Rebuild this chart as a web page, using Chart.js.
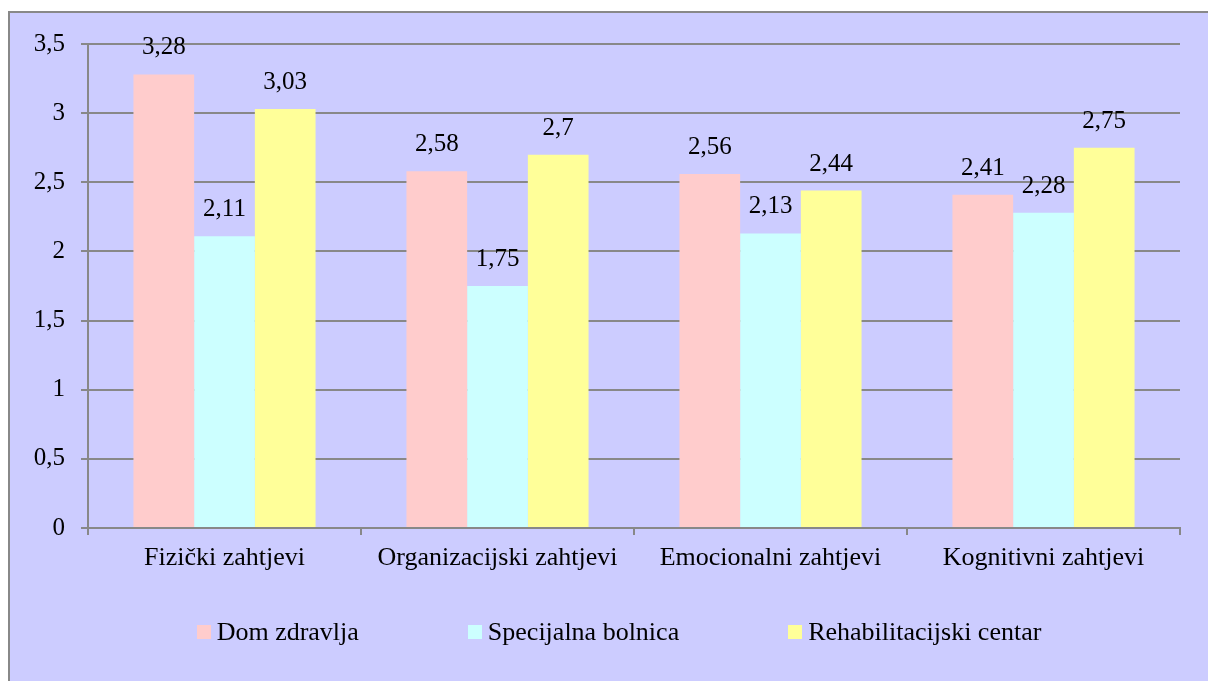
<!DOCTYPE html>
<html>
<head>
<meta charset="utf-8">
<script src="https://cdn.jsdelivr.net/npm/chart.js@4"></script>
<style>
	body { margin: 0; background: #fff; overflow: hidden; }
	#box {
		position: absolute; left: 8px; top: 11px;
		width: 1218px; height: 680px;
		background: #ccccff;
		border-left: 2px solid #888; border-top: 2px solid #888;
	}
	#chart { position: absolute; left: 0; top: 0; }
	#legend {
		position: absolute; left: 0; top: 603px; width: 1218px;
		display: flex; justify-content: center; gap: 109px;
		font: 26px "Liberation Serif", "Times New Roman", serif;
		line-height: 32px; color: #000;
	}
	#legend .item { display: flex; align-items: center; }
	#legend .sw { width: 14px; height: 14px; margin-right: 6px; }
</style>
</head>
<body>
<div id="box">
	<canvas id="chart" width="1218" height="668"></canvas>
	<div id="legend"></div>
</div>
<script>
// データ
const categories = ['Fizički zahtjevi', 'Organizacijski zahtjevi', 'Emocionalni zahtjevi', 'Kognitivni zahtjevi'];
const seriesNames = ['Dom zdravlja', 'Specijalna bolnica', 'Rehabilitacijski centar'];
const domZdravlja = [3.28, 2.58, 2.56, 2.41];
const specijalnaBolnica = [2.11, 1.75, 2.13, 2.28];
const rehabCentar = [3.03, 2.70, 2.44, 2.75];
const yTicks = [0, 0.5, 1, 1.5, 2, 2.5, 3, 3.5];

const colors = ['#ffcccc', '#ccffff', '#ffff99'];
const serif = '"Liberation Serif", "Times New Roman", serif';

// 小数点をカンマで表示
function fmt(v) {
	return String(v).replace('.', ',');
}

// 棒の上に値ラベルを描く
const valueLabels = {
	id: 'valueLabels',
	afterDatasetsDraw(chart) {
		const ctx = chart.ctx;
		ctx.save();
		ctx.font = '25px ' + serif;
		ctx.fillStyle = '#000';
		ctx.textAlign = 'center';
		ctx.textBaseline = 'alphabetic';
		chart.data.datasets.forEach(function(ds, i) {
			chart.getDatasetMeta(i).data.forEach(function(bar, j) {
				ctx.fillText(fmt(ds.data[j]), bar.x, bar.y - 20);
			});
		});
		ctx.restore();
	}
};

const chart = new Chart(document.getElementById('chart'), {
	type: 'bar',
	data: {
		labels: categories,
		datasets: [domZdravlja, specijalnaBolnica, rehabCentar].map(function(d, i) {
			return {
				label: seriesNames[i],
				data: d,
				backgroundColor: colors[i],
				borderWidth: 0,
				categoryPercentage: 0.667,
				barPercentage: 1.0
			};
		})
	},
	options: {
		responsive: false,
		animation: false,
		devicePixelRatio: 1,
		layout: { padding: { left: 0, right: 48, top: 28, bottom: 93 } },
		plugins: {
			legend: { display: false },
			tooltip: { enabled: false }
		},
		scales: {
			x: {
				afterFit: function(s) { s.height = 60; },
				grid: {
					drawOnChartArea: false, drawTicks: true, tickLength: 7,
					color: '#888', lineWidth: 2
				},
				border: { color: '#888', width: 2 },
				ticks: { color: '#000', padding: 8, font: { family: serif, size: 26 } }
			},
			y: {
				min: 0, max: 3.5,
				afterFit: function(s) { s.width = 78; },
				afterBuildTicks: function(s) {
					s.ticks = yTicks.map(function(v) { return { value: v }; });
				},
				grid: { color: '#888', lineWidth: 2, tickLength: 7 },
				border: { color: '#888', width: 2 },
				ticks: {
					color: '#000', padding: 16,
					font: { family: serif, size: 25 },
					callback: function(v) { return fmt(v); }
				}
			}
		}
	},
	plugins: [valueLabels]
});

// 凡例（HTML）
const legend = document.getElementById('legend');
chart.data.datasets.forEach(function(ds) {
	const item = document.createElement('div');
	item.className = 'item';
	const sw = document.createElement('span');
	sw.className = 'sw';
	sw.style.background = ds.backgroundColor;
	item.appendChild(sw);
	item.appendChild(document.createTextNode(ds.label));
	legend.appendChild(item);
});
</script>
</body>
</html>
